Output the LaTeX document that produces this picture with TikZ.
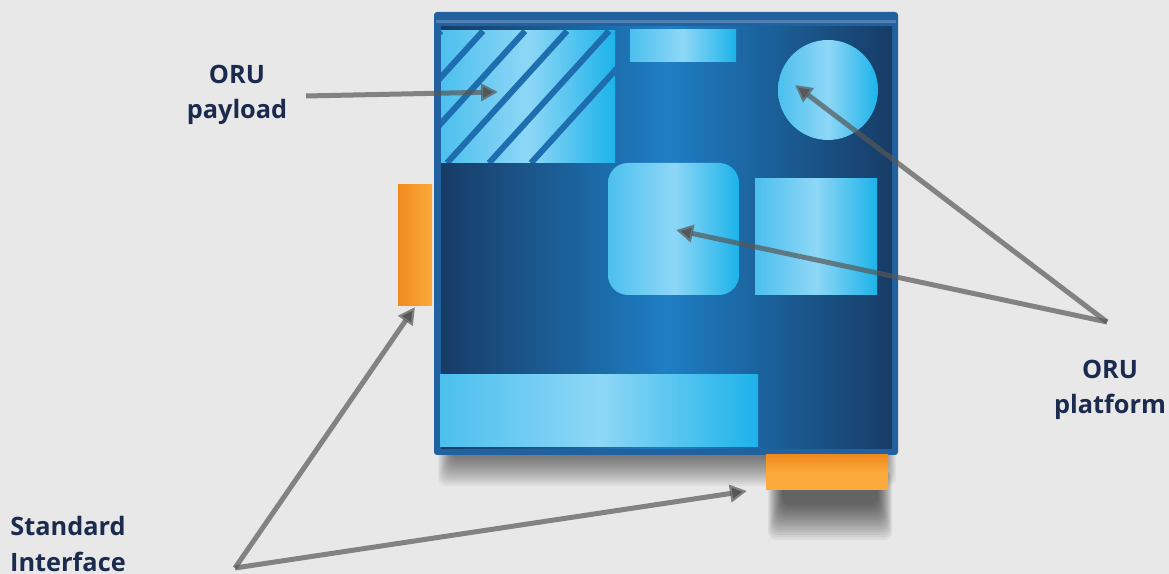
\documentclass[tikz,border=0pt]{standalone}
\usepackage{fontspec}
\setmainfont{Open Sans}
\usepackage{xcolor}
\usetikzlibrary{arrows.meta}

\definecolor{bggray}{HTML}{E8E8E8}
\definecolor{navytxt}{HTML}{1B2B4D}
\definecolor{ptrgray}{HTML}{575757}
\definecolor{frameblue}{HTML}{22619F}
\definecolor{deepnavy}{HTML}{173C66}
\definecolor{midblue}{HTML}{1E7EC4}
\definecolor{cyanA}{HTML}{4CC0EE}
\definecolor{cyanB}{HTML}{8ED7F6}
\definecolor{cyanC}{HTML}{1CB3EA}
\definecolor{stripeblue}{HTML}{1D6DAF}
\definecolor{orangeA}{HTML}{F08A1C}
\definecolor{orangeB}{HTML}{FBAA3C}

\begin{document}
\begin{tikzpicture}[
    x=0.01cm, y=-0.01cm,
    lbl/.style={align=center, font=\fontsize{7.2}{10}\selectfont\bfseries, text=navytxt},
    part/.style={left color=cyanA, right color=cyanC, middle color=cyanB},
    stripe/.style={draw=stripeblue, line width=0.06cm},
    plug/.style={left color=orangeA, right color=orangeB},
    softshade/.style={fill=black, opacity=#1, rounded corners=0.08cm},
    pointer/.style={-{Triangle[length=0.17cm,width=0.17cm]}, line width=0.05cm, draw=ptrgray, draw opacity=0.7}
]
% background
\fill[bggray] (0,0) rectangle (1169,574);
\useasboundingbox (0,0) rectangle (1169,574);

% shadows
\foreach \i in {0,...,14}
  \fill[softshade=0.04] (438+\i,30) rectangle (896-\i,486-2*\i);
\foreach \i in {0,...,14}
  \fill[softshade=0.05] (768+\i,470) rectangle (892-\i,540-2.5*\i);

% ORU frame
\fill[frameblue, rounded corners=0.03cm] (434,12) rectangle (898,455);
\shade[left color=deepnavy, right color=deepnavy, middle color=midblue] (441,27) rectangle (892,449);
\draw[frameblue!80!white, line width=0.03cm] (436,22) -- (896,22);

% payload (hatched)
\begin{scope}
  \clip (441,31) rectangle (615,163);
  \shade[part] (441,31) rectangle (615,163);
  \foreach \s in {399,441,...,651}
    \draw[stripe] (\s,31) -- ++(-120,132);
\end{scope}

% platform parts
\shade[part] (630,30) rectangle (736,62);
\shade[part] (828,90) circle (50);
\shade[part, rounded corners=0.2cm] (608,163) rectangle (739,295);
\shade[part] (755,179) rectangle (877,295);
\shade[part] (440,375) rectangle (758,447);

% standard interfaces
\shade[plug] (398,185) rectangle (432,306);
\shade[top color=orangeA, bottom color=orangeB, middle color=orangeB] (766,455) rectangle (888,490);

% labels
\node[lbl] (payload) at (237,95) {ORU\\payload};
\node[lbl] (platform) at (1110,390) {ORU\\platform};
\node[lbl] (iface) at (68,544) {Standard\\Interface};

% pointer ends
\coordinate (payload-tail) at (306,96);
\coordinate (payload-tip) at (498,92);
\coordinate (platform-hub) at (1107,322);
\coordinate (circle-tip) at (795,85);
\coordinate (square-tip) at (676,230);
\coordinate (iface-hub) at (235,568);
\coordinate (side-tip) at (415,307);
\coordinate (bottom-tip) at (747,491);

\draw[pointer] (payload-tail) -- (payload-tip);
\draw[pointer] (platform-hub) -- (circle-tip);
\draw[pointer] (platform-hub) -- (square-tip);
\draw[pointer] (iface-hub) -- (side-tip);
\draw[pointer] (iface-hub) -- (bottom-tip);
\end{tikzpicture}
\end{document}
